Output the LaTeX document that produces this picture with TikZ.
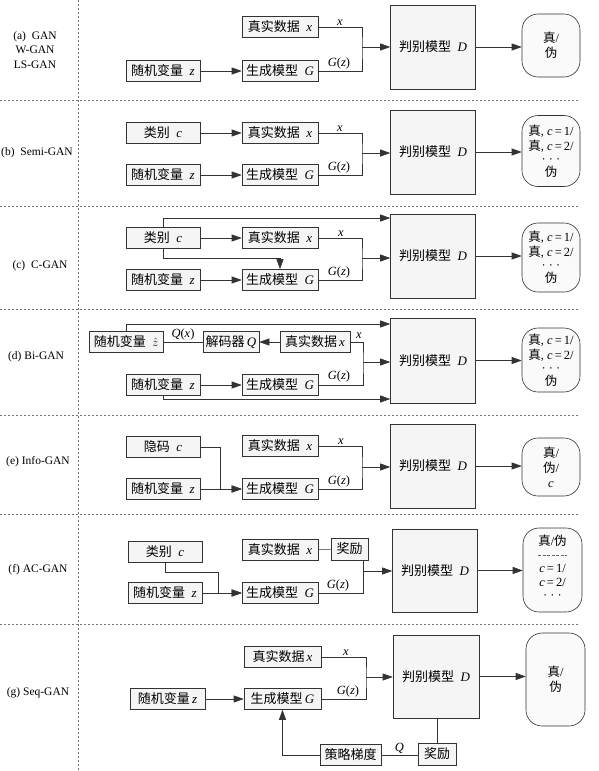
\documentclass[tikz,border=0pt]{standalone}
\usepackage{fontspec}
\setmainfont{Liberation Serif}
\newfontfamily\cjk{Noto Sans CJK SC}
\usetikzlibrary{arrows.meta}
\newcommand{\zh}[1]{{\cjk #1}}
\newcommand{\vi}[1]{\textit{#1}}
\begin{document}
\begin{tikzpicture}[x=1pt,y=-1pt,
  bx/.style={draw=black!80, fill=black!4, line width=0.6pt, inner sep=0pt, font=\fontsize{13}{15}\selectfont, minimum height=21pt},
  sbx/.style={bx, minimum width=74pt},
  mbx/.style={bx, minimum width=76pt},
  dbx/.style={bx, minimum width=85pt},
  rbx/.style={draw=black!80, fill=black!2, line width=0.6pt, rounded corners=16pt, minimum width=58pt, align=center, inner sep=0pt, font=\fontsize{12.5}{15}\selectfont},
  ln/.style={draw=black!80, line width=0.6pt},
  ar/.style={ln, -{Triangle[length=10pt,width=7pt]}},
  sep/.style={draw=black!55, line width=0.5pt, dash pattern=on 2pt off 2pt},
  lab/.style={font=\fontsize{11.5}{14.5}\selectfont, align=center},
  elab/.style={font=\fontsize{12.5}{14}\selectfont, inner sep=1.5pt, anchor=south},
  rtxt/.style={font=\fontsize{12.5}{14}\selectfont, inner sep=0pt}
]
\fill[white] (0,0) rectangle (598,771);
\useasboundingbox (0,0) rectangle (598,771);

% separators
\foreach \yy in {100,206,309,415,514,624} \draw[sep] (0,\yy) -- (580,\yy);
\draw[sep] (78,0) -- (78,771);

% ---------- (a)
\node[lab] (aL) at (35,50) {(a)\ \ GAN\\W-GAN\\LS-GAN};
\node[mbx] (ax) at (280,27) {\zh{真实数据}\enspace\vi{x}};
\node[sbx] (az) at (163,71) {\zh{随机变量}\enspace\vi{z}};
\node[mbx] (aG) at (280,71) {\zh{生成模型}\enspace\vi{G}};
\node[dbx, minimum height=84pt] (aD) at (433,47) {\zh{判别模型}\enspace\vi{D}};
\node[rbx, minimum height=63pt] (aR) at (551,45.5) {\zh{真}/\\\zh{伪}};
\coordinate (aJ) at (362,47);
\draw[ar] (az) -- (aG);
\draw[ln] (ax.east) -| (aJ) |- (aG.east);
\draw[ar] (aJ) -- (aJ -| aD.west);
\draw[ar] (aD.east) -- (aD.east -| aR.west);
\node[elab] at (340,27) {\vi{x}};
\node[elab] at (339,71) {\vi{G}(\vi{z})};

% ---------- (b)
\node[lab] (bL) at (37,153) {(b)\ \ Semi-GAN};
\node[sbx] (bc) at (163,133) {\zh{类别}\enspace\vi{c}};
\node[mbx] (bx) at (280,133) {\zh{真实数据}\enspace\vi{x}};
\node[sbx] (bz) at (163,175) {\zh{随机变量}\enspace\vi{z}};
\node[mbx] (bG) at (280,175) {\zh{生成模型}\enspace\vi{G}};
\node[dbx, minimum height=84pt] (bD) at (433,152) {\zh{判别模型}\enspace\vi{D}};
\node[rbx, minimum height=71pt] (bR) at (551,151) {\zh{真}, \vi{c}\,=\,1/\\\zh{真}, \vi{c}\,=\,2/\\[-2pt]· · ·\\[-2pt]\zh{伪}};
\coordinate (bJ) at (362,153);
\draw[ar] (bc) -- (bx);
\draw[ar] (bz) -- (bG);
\draw[ln] (bx.east) -| (bJ) |- (bG.east);
\draw[ar] (bJ) -- (bJ -| bD.west);
\draw[ar] (bD.east) -- (bD.east -| bR.west);
\node[elab] at (340,133) {\vi{x}};
\node[elab] at (339,175) {\vi{G}(\vi{z})};

% ---------- (c)
\node[lab] (cL) at (40,266) {(c)\ \ C-GAN};
\node[sbx] (cc) at (163,238) {\zh{类别}\enspace\vi{c}};
\node[mbx] (cx) at (280,238) {\zh{真实数据}\enspace\vi{x}};
\node[sbx] (cz) at (163,280) {\zh{随机变量}\enspace\vi{z}};
\node[mbx] (cG) at (280,280) {\zh{生成模型}\enspace\vi{G}};
\node[dbx, minimum height=84pt] (cD) at (433,256) {\zh{判别模型}\enspace\vi{D}};
\node[rbx, minimum height=69pt] (cR) at (551,257.5) {\zh{真}, \vi{c}\,=\,1/\\\zh{真}, \vi{c}\,=\,2/\\[-2pt]· · ·\\[-2pt]\zh{伪}};
\coordinate (cJ) at (362,258);
\draw[ar] (cc) -- (cx);
\draw[ar] (cz) -- (cG);
\draw[ar] (cc.north) |- (cD.west |- 0,218);
\draw[ar] (cc.south) |- (cG.north |- 0,258) -- (cG.north);
\draw[ln] (cx.east) -| (cJ) |- (cG.east);
\draw[ar] (cJ) -- (cJ -| cD.west);
\draw[ar] (cD.east) -- (cD.east -| cR.west);
\node[elab] at (341,238) {\vi{x}};
\node[elab] at (339,280) {\vi{G}(\vi{z})};

% ---------- (d)
\node[lab] (dL) at (36,357) {(d) Bi-GAN};
\node[sbx] (dh) at (126,342) {\zh{随机变量}\enspace$\hat{z}$};
\node[bx, minimum width=56pt] (dQ) at (231,342) {\zh{解码器}\,\vi{Q}};
\node[bx, minimum width=70pt] (dx) at (315,342) {\zh{真实数据}\,\vi{x}};
\node[sbx] (dz) at (163,385) {\zh{随机变量}\enspace\vi{z}};
\node[mbx] (dG) at (280,385) {\zh{生成模型}\enspace\vi{G}};
\node[dbx, minimum height=85pt] (dD) at (433,360.5) {\zh{判别模型}\enspace\vi{D}};
\node[rbx, minimum height=64pt] (dR) at (551,360) {\zh{真}, \vi{c}\,=\,1/\\\zh{真}, \vi{c}\,=\,2/\\[-2pt]· · ·\\[-2pt]\zh{伪}};
\coordinate (dJ) at (363,362);
\draw[ar] (dx) -- (dQ);
\draw[ln] (dQ) -- (dh) node[midway, elab] {\vi{Q}(\vi{x})};
\draw[ar] (dh.north) |- (dD.west |- 0,324);
\draw[ar] (dz) -- (dG);
\draw[ar] (dz.south) |- (dD.west |- 0,399);
\draw[ln] (dx.east) -| (dJ) |- (dG.east);
\draw[ar] (dJ) -- (dJ -| dD.west);
\draw[ar] (dD.east) -- (dD.east -| dR.west);
\node[elab] at (359,340) {\vi{x}};
\node[elab] at (339,384) {\vi{G}(\vi{z})};

% ---------- (e)
\node[lab] (eL) at (38,462) {(e) Info-GAN};
\node[sbx] (ec) at (163,447) {\zh{隐码}\enspace\vi{c}};
\node[mbx] (ex) at (280,446) {\zh{真实数据}\enspace\vi{x}};
\node[sbx] (ez) at (163,489) {\zh{随机变量}\enspace\vi{z}};
\node[mbx] (eG) at (280,489) {\zh{生成模型}\enspace\vi{G}};
\node[dbx, minimum height=84pt] (eD) at (433,466) {\zh{判别模型}\enspace\vi{D}};
\node[rbx, minimum height=58pt] (eR) at (551,467) {\zh{真}/\\\zh{伪}/\\\vi{c}};
\coordinate (eK) at (220,489);
\coordinate (eJ) at (362,467);
\draw[ar] (ec.east) -| (eK) -- (eG.west);
\draw[ar] (ez) -- (eG);
\draw[ln] (ex.east) -| (eJ) |- (eG.east);
\draw[ar] (eJ) -- (eJ -| eD.west);
\draw[ar] (eD.east) -- (eD.east -| eR.west);
\node[elab] at (341,446) {\vi{x}};
\node[elab] at (339,489) {\vi{G}(\vi{z})};

% ---------- (f)
\node[lab] (fL) at (38,570) {(f) AC-GAN};
\node[sbx] (fc) at (165,552) {\zh{类别}\enspace\vi{c}};
\node[mbx] (fx) at (280,550) {\zh{真实数据}\enspace\vi{x}};
\node[bx, minimum width=37pt, minimum height=22pt] (fr) at (349.5,549) {\zh{奖励}};
\node[sbx] (fz) at (165,593) {\zh{随机变量}\enspace\vi{z}};
\node[mbx] (fG) at (280,593) {\zh{生成模型}\enspace\vi{G}};
\node[dbx, minimum height=83pt] (fD) at (435,570.5) {\zh{判别模型}\enspace\vi{D}};
\node[rbx, minimum width=59pt, minimum height=84pt] (fR) at (552.5,570) {};
\node[rtxt] (fR1) at (552.5,541) {\zh{真}/\zh{伪}};
\draw[draw=black!60, line width=0.5pt, dash pattern=on 3pt off 1.5pt] (fR1.south west |- 0,555) -- (fR1.south east |- 0,555);
\node[rtxt] (fR2) at (552.5,568) {\vi{c}\,=\,1/};
\node[rtxt] (fR3) at (552.5,582) {\vi{c}\,=\,2/};
\node[rtxt] (fR4) at (552.5,597) {· · ·};
\coordinate (fK) at (218,572);
\coordinate (fJ) at (363,571);
\draw[ar] (fc.south) |- (fK) |- (fG.west);
\draw[ar] (fz) -- (fG);
\draw[ln] (fx) -- (fr);
\draw[ln] (fr.south -| fJ) -- (fJ |- fG.east) -- (fG.east);
\draw[ar] (fJ) -- (fJ -| fD.west);
\draw[ar] (fD.east) -- (fD.east -| fR.west);
\node[elab] at (338,593) {\vi{G}(\vi{z})};

% ---------- (g)
\node[lab] (gL) at (38,693) {(g) Seq-GAN};
\node[mbx, minimum width=77pt] (gx) at (282.5,657) {\zh{真实数据}\,\vi{x}};
\node[bx, minimum width=75pt] (gz) at (167.5,699) {\zh{随机变量}\,\vi{z}};
\node[mbx, minimum width=77pt] (gG) at (282.5,699) {\zh{生成模型}\,\vi{G}};
\node[dbx, minimum width=86pt, minimum height=83pt] (gD) at (436,676.5) {\zh{判别模型}\enspace\vi{D}};
\node[rbx, minimum width=59pt, minimum height=93pt] (gR) at (555.5,679.5) {\zh{真}/\\\zh{伪}};
\node[bx, minimum width=38pt, minimum height=22pt] (gr) at (437,754) {\zh{奖励}};
\node[bx, minimum width=61pt] (gp) at (350.5,755) {\zh{策略梯度}};
\coordinate (gJ) at (366,677);
\draw[ar] (gz) -- (gG);
\draw[ln] (gx.east) -| (gJ) |- (gG.east);
\draw[ar] (gJ) -- (gJ -| gD.west);
\draw[ar] (gD.east) -- (gD.east -| gR.west);
\draw[ln] (gr.north |- gD.south) -- (gr.north);
\draw[ln] (gp.east) -- (gp.east -| gr.west) node[midway, elab] {\vi{Q}};
\draw[ar] (gp.west) -| (gG.south);
\node[elab] at (346,657) {\vi{x}};
\node[elab] at (348,699) {\vi{G}(\vi{z})};
\end{tikzpicture}
\end{document}
